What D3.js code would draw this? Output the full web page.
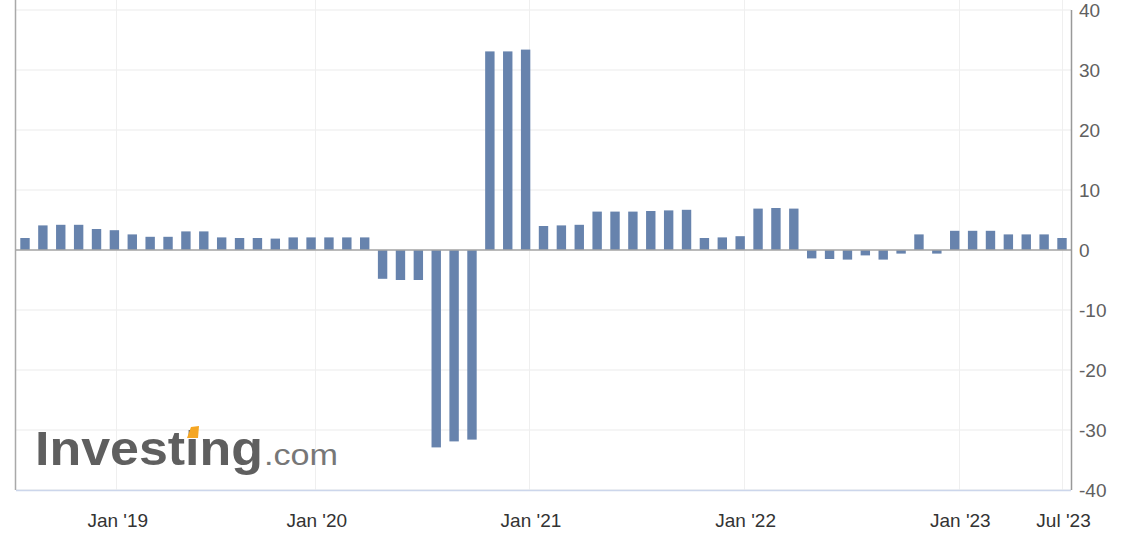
<!DOCTYPE html>
<html>
<head>
<meta charset="utf-8">
<script src="https://cdn.jsdelivr.net/npm/d3@7"></script>
<style>
  html, body { margin: 0; padding: 0; background: #fff; }
  svg { display: block; }
  text { font-family: "Liberation Sans", Arial, Helvetica, sans-serif; }
</style>
</head>
<body>
<svg id="chart" width="1140" height="544"></svg>
<script>
// Release dates of each bar (ordinal axis: bars are evenly spaced)
const releaseDates = [
  "2018-06-28","2018-07-27","2018-08-29","2018-09-27","2018-10-26","2018-12-21",
  "2019-02-28","2019-03-28","2019-04-26","2019-05-30","2019-06-27","2019-07-26",
  "2019-08-29","2019-09-26","2019-10-30","2019-11-27","2019-12-20",
  "2020-01-30","2020-02-27","2020-03-26","2020-04-29","2020-05-28","2020-06-25",
  "2020-07-30","2020-08-27","2020-09-30","2020-10-29","2020-11-25","2020-12-22",
  "2021-01-28","2021-02-25","2021-03-25","2021-04-29","2021-05-27","2021-06-24",
  "2021-07-29","2021-08-26","2021-09-30","2021-10-28","2021-11-24","2021-12-22",
  "2022-01-27","2022-02-24","2022-03-30","2022-04-28","2022-05-26","2022-06-29",
  "2022-07-28","2022-08-25","2022-09-29","2022-10-27","2022-11-30","2022-12-22",
  "2023-01-26","2023-02-23","2023-03-30","2023-04-27","2023-05-25","2023-06-29"
];
const values = [
  2.0, 4.1, 4.2, 4.2, 3.5, 3.3,
  2.6, 2.2, 2.2, 3.1, 3.1, 2.1,
  2.0, 2.0, 1.9, 2.1, 2.1,
  2.1, 2.1, 2.1, -4.8, -5.0, -5.0,
  -32.9, -31.9, -31.6, 33.1, 33.1, 33.4,
  4.0, 4.1, 4.2, 6.4, 6.4, 6.4,
  6.5, 6.6, 6.7, 2.0, 2.1, 2.3,
  6.9, 7.0, 6.9, -1.4, -1.5, -1.6,
  -0.9, -1.6, -0.6, 2.6, -0.6, 3.2,
  3.2, 3.2, 2.6, 2.6, 2.6, 2.0
];
const xTickDates = ["2019-01-01","2020-01-01","2021-01-01","2022-01-01","2023-01-01","2023-07-01"];
const xTickLabels = ["Jan '19","Jan '20","Jan '21","Jan '22","Jan '23","Jul '23"];
const yTicks = [40, 30, 20, 10, 0, -10, -20, -30, -40];

const parse = d3.timeParse("%Y-%m-%d");
const dates = releaseDates.map(parse);
const tickDates = xTickDates.map(parse);

const svg = d3.select("#chart");
const plot = { left: 16, right: 1071, top: 10, bottom: 490 };
const firstX = 25, lastX = 1062;

// ordinal-like time scale: each release date maps to an evenly spaced slot
const step = (lastX - firstX) / (dates.length - 1);
const x = d3.scaleTime()
  .domain(dates)
  .range(dates.map((d, i) => firstX + i * step));

const y = d3.scaleLinear().domain([-40, 40]).range([plot.bottom, plot.top]);

// horizontal grid
svg.append("g")
  .selectAll("line").data(yTicks).join("line")
  .attr("x1", plot.left).attr("x2", plot.right)
  .attr("y1", d => y(d)).attr("y2", d => y(d))
  .attr("stroke", "#ebebeb").attr("stroke-width", 1);

// vertical grid
svg.append("g")
  .selectAll("line").data(tickDates).join("line")
  .attr("x1", d => Math.round(x(d)) - 0.5).attr("x2", d => Math.round(x(d)) - 0.5)
  .attr("y1", 0).attr("y2", plot.bottom)
  .attr("stroke", "#efefef").attr("stroke-width", 1);

// logo watermark
const logo = svg.append("g");
logo.append("text")
  .attr("x", 35).attr("y", 465)
  .attr("font-size", 48).attr("font-weight", "bold")
  .attr("fill", "#5f5f5f")
  .attr("textLength", 228).attr("lengthAdjust", "spacingAndGlyphs")
  .text("Investing");
logo.append("text")
  .attr("x", 264).attr("y", 465)
  .attr("font-size", 29)
  .attr("fill", "#777")
  .attr("textLength", 74).attr("lengthAdjust", "spacingAndGlyphs")
  .text(".com");
logo.append("path")
  .attr("d", "M187,438 L191,427 L199,426 L198,438 Z")
  .attr("fill", "#f5a623");

// left border
svg.append("line")
  .attr("x1", plot.left - 0.5).attr("x2", plot.left - 0.5)
  .attr("y1", 0).attr("y2", plot.bottom)
  .attr("stroke", "#a9a9a9").attr("stroke-width", 1.5);

// bars
const barW = 9.4;
svg.append("g")
  .selectAll("rect").data(values).join("rect")
  .attr("x", (d, i) => x(dates[i]) - barW / 2)
  .attr("width", barW)
  .attr("y", d => y(Math.max(0, d)))
  .attr("height", d => Math.abs(y(d) - y(0)))
  .attr("fill", "#6783ad");

// zero line
svg.append("line")
  .attr("x1", plot.left).attr("x2", plot.right)
  .attr("y1", y(0)).attr("y2", y(0))
  .attr("stroke", "#a6a6a6").attr("stroke-width", 1.5);

// bottom axis
const xAxis = d3.axisBottom(x)
  .tickValues(tickDates)
  .tickFormat((d, i) => xTickLabels[i])
  .tickSize(0).tickPadding(24);
const gx = svg.append("g").attr("transform", `translate(0,${plot.bottom})`).call(xAxis);
gx.select(".domain").remove();
gx.append("line")
  .attr("x1", plot.left).attr("x2", plot.right)
  .attr("y1", 0.5).attr("y2", 0.5)
  .attr("stroke", "#ccd6eb").attr("stroke-width", 1.5);
gx.selectAll("text")
  .attr("font-size", 19).attr("fill", "#333")
  .attr("font-family", "'Liberation Sans', Arial, sans-serif");

// right axis
const yAxis = d3.axisRight(y).tickValues(yTicks)
  .tickFormat(d => String(d))
  .tickSize(0).tickPadding(8);
const gy = svg.append("g").attr("transform", `translate(${plot.right},0)`).call(yAxis);
gy.select(".domain").remove();
gy.append("line")
  .attr("x1", 0.5).attr("x2", 0.5)
  .attr("y1", plot.top).attr("y2", plot.bottom)
  .attr("stroke", "#999").attr("stroke-width", 1.5);
gy.selectAll("text")
  .attr("font-size", 19).attr("fill", "#606060")
  .attr("font-family", "'Liberation Sans', Arial, sans-serif");
</script>
</body>
</html>
